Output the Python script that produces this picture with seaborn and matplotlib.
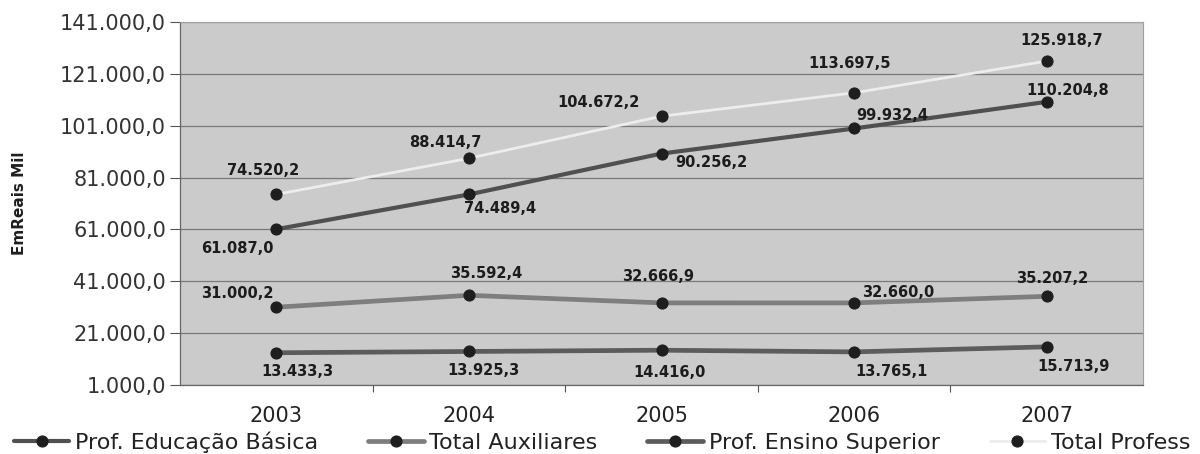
import pandas as pd
import matplotlib
matplotlib.use('Agg')
import matplotlib.pyplot as plt
import seaborn as sns
from matplotlib.ticker import FuncFormatter, FixedLocator

YEARS = [2003, 2004, 2005, 2006, 2007]
SERIES = [
    'Prof. Educação Básica',
    'Total Auxiliares',
    'Prof. Ensino Superior',
    'Total Profess',
]
EDUCACAO_BASICA = [61087.0, 74489.4, 90256.2, 99932.4, 110204.8]
TOTAL_AUXILIARES = [31000.2, 35592.4, 32666.9, 32660.0, 35207.2]
ENSINO_SUPERIOR = [13433.3, 13925.3, 14416.0, 13765.1, 15713.9]
TOTAL_PROFESS = [74520.2, 88414.7, 104672.2, 113697.5, 125918.7]
Y_TICKS = [1000, 21000, 41000, 61000, 81000, 101000, 121000, 141000]
Y_LABEL = 'EmReais Mil'

# styling per series: line colour, line width
STYLE = {
    'Prof. Educação Básica': ('#505050', 3.0),
    'Total Auxiliares': ('#7e7e7e', 3.4),
    'Prof. Ensino Superior': ('#5c5c5c', 3.4),
    'Total Profess': ('#ededed', 2.0),
}
# data label offsets in pixels (dx, dy)
OFFSETS = {
    'Prof. Educação Básica': [(-39, -19), (31, -14), (50, -9), (38, 13), (21, 11)],
    'Total Auxiliares': [(-39, 14), (17, 22), (-3, 26), (44, 10), (5, 18)],
    'Prof. Ensino Superior': [(21, -19), (15, -19), (8, -22), (37, -20), (27, -20)],
    'Total Profess': [(-13, 24), (-24, 16), (-63, 14), (-5, 29), (15, 21)],
}


def br_number(v):
    s = f'{v:,.1f}'
    return s.replace(',', '#').replace('.', ',').replace('#', '.')


def main():
    values = {
        SERIES[0]: EDUCACAO_BASICA,
        SERIES[1]: TOTAL_AUXILIARES,
        SERIES[2]: ENSINO_SUPERIOR,
        SERIES[3]: TOTAL_PROFESS,
    }
    rows = []
    for name in SERIES:
        for year, v in zip(YEARS, values[name]):
            rows.append({'serie': name, 'ano': year, 'valor': v})
    df = pd.DataFrame(rows)

    sns.set_theme(style='white')
    plt.rcParams['font.family'] = ['DejaVu Sans']

    fig = plt.figure(figsize=(12, 4.54), dpi=100)
    ax = fig.add_axes([0.15, 0.152, 0.8025, 0.7995])
    ax.set_facecolor('#cbcbcb')

    for name in SERIES:
        color, lw = STYLE[name]
        sub = df[df['serie'] == name]
        sns.lineplot(data=sub, x='ano', y='valor', ax=ax, color=color,
                     linewidth=lw, marker='o', markersize=8,
                     markerfacecolor='#1e1e1e', markeredgecolor='#1e1e1e',
                     label=name, zorder=3)
        for (_, r), (dx, dy) in zip(sub.iterrows(), OFFSETS[name]):
            ax.annotate(br_number(r['valor']), (r['ano'], r['valor']),
                        xytext=(dx, dy), textcoords='offset pixels',
                        ha='center', va='center', fontsize=10.5,
                        fontweight='bold', color='#1c1c1c', zorder=4)

    ax.set_xlim(YEARS[0] - 0.5, YEARS[-1] + 0.5)
    ax.set_ylim(Y_TICKS[0], Y_TICKS[-1])
    ax.set_xticks(YEARS)
    ax.set_xticklabels([str(y) for y in YEARS])
    ax.xaxis.set_minor_locator(FixedLocator([y + 0.5 for y in YEARS[:-1]]))
    ax.tick_params(axis='x', which='major', length=0, pad=15,
                   labelsize=15, labelcolor='#222222')
    ax.tick_params(axis='x', which='minor', length=5, width=0.8,
                   color='#555555', bottom=True)
    ax.set_yticks(Y_TICKS)
    ax.yaxis.set_major_formatter(FuncFormatter(lambda v, p: br_number(v)))
    ax.tick_params(axis='y', length=7, width=0.8, color='#555555', pad=3,
                   labelsize=15, labelcolor='#333333', left=True)
    ax.grid(axis='y', color='#7a7a7a', linewidth=0.9, zorder=1)
    ax.set_axisbelow(True)
    for side in ['left', 'bottom']:
        ax.spines[side].set_color('#666666')
        ax.spines[side].set_linewidth(0.9)
    for side in ['top', 'right']:
        ax.spines[side].set_color('#a0a0a0')
        ax.spines[side].set_linewidth(0.8)

    ax.set_xlabel('')
    ax.set_ylabel(Y_LABEL, fontsize=11, fontweight='bold', color='#1e1e1e')
    ax.yaxis.set_label_coords(-0.159, 0.5)

    handles, labels = ax.get_legend_handles_labels()
    ax.get_legend().remove()
    fig.legend(handles, labels, loc='center left', ncol=4,
               bbox_to_anchor=(0.0115, 0.026), frameon=False, fontsize=16,
               handlelength=2.5, handletextpad=0.25, columnspacing=2.25,
               borderpad=0, borderaxespad=0, labelcolor='#222222')

    fig.savefig('out.png', dpi=100)


if __name__ == '__main__':
    main()
